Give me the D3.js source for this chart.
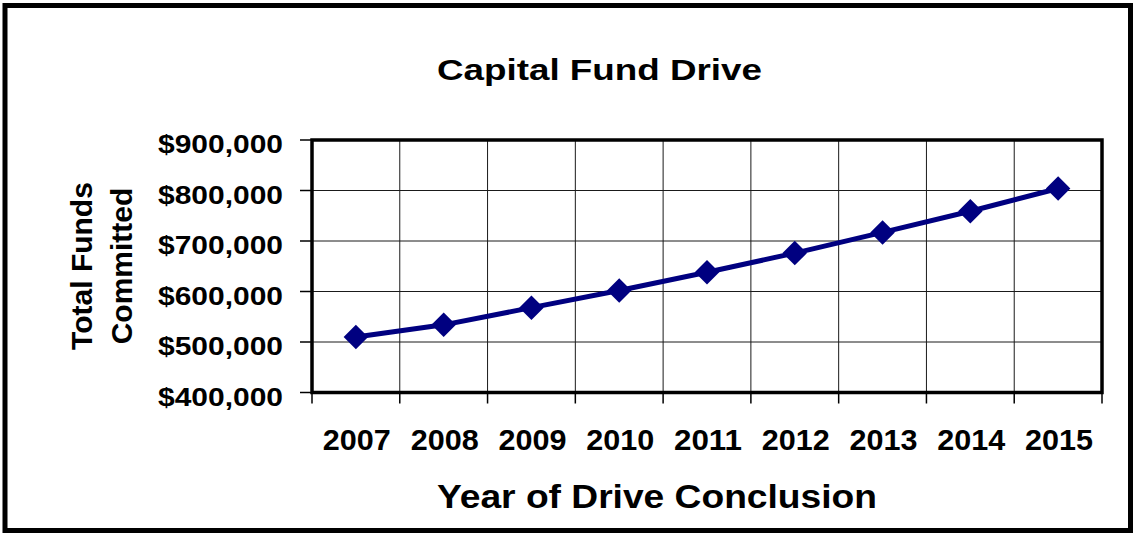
<!DOCTYPE html>
<html>
<head>
<meta charset="utf-8">
<script src="https://cdn.jsdelivr.net/npm/d3@7"></script>
<style>
  html, body { margin: 0; padding: 0; background: #fff; }
  svg { display: block; }
  text { font-family: Arial, "Liberation Sans", Helvetica, sans-serif; font-weight: 700; fill: #000; }
</style>
</head>
<body>
<svg id="chart" width="1133" height="533"></svg>
<script>
// Chart data
const years = ["2007", "2008", "2009", "2010", "2011", "2012", "2013", "2014", "2015"];
const committed = [510000, 534000, 568000, 602000, 638000, 676000, 717000, 759000, 804000];
const yTicks = [400000, 500000, 600000, 700000, 800000, 900000];
const chartTitle = "Capital Fund Drive";
const xTitle = "Year of Drive Conclusion";
const yTitleLines = ["Total Funds", "Committed"];

const svg = d3.select("#chart");
const W = 1133, H = 533;
const plot = { left: 312, right: 1102, top: 140, bottom: 392.5 };

// Outer frame
svg.append("rect")
  .attr("x", 5).attr("y", 5.5)
  .attr("width", W - 7.5).attr("height", H - 8)
  .attr("fill", "#fff").attr("stroke", "#000").attr("stroke-width", 5);

const x = d3.scaleBand().domain(years).range([plot.left, plot.right]).padding(0);
const y = d3.scaleLinear().domain([400000, 900000]).range([plot.bottom, plot.top]);

// Title
svg.append("text")
  .attr("x", 599.5).attr("y", 79.5)
  .attr("text-anchor", "middle")
  .attr("font-size", 29)
  .attr("textLength", 325).attr("lengthAdjust", "spacingAndGlyphs")
  .text(chartTitle);

// Gridlines
const grid = svg.append("g").attr("stroke", "#1a1a1a").attr("stroke-width", 1);
grid.selectAll("line.h").data(yTicks.slice(1, -1)).join("line")
  .attr("x1", plot.left).attr("x2", plot.right)
  .attr("y1", d => y(d)).attr("y2", d => y(d));
const boundaries = years.slice(1).map(d => x(d));
grid.selectAll("line.v").data(boundaries).join("line")
  .attr("x1", d => d).attr("x2", d => d)
  .attr("y1", plot.top).attr("y2", plot.bottom);

// Y axis ticks and labels
const fmt = d => "$" + d3.format(",")(d);
const yAxis = svg.append("g");
yAxis.selectAll("line").data(yTicks).join("line")
  .attr("x1", plot.left - 12).attr("x2", plot.left)
  .attr("y1", d => y(d)).attr("y2", d => y(d))
  .attr("stroke", "#000").attr("stroke-width", 1.5);
yAxis.selectAll("text").data(yTicks).join("text")
  .attr("x", plot.left - 29).attr("y", d => y(d) + 13)
  .attr("text-anchor", "end")
  .attr("font-size", 26)
  .attr("textLength", 125).attr("lengthAdjust", "spacingAndGlyphs")
  .text(fmt);

// X axis ticks and labels
const xEdges = [plot.left, ...boundaries, plot.right];
const xAxis = svg.append("g");
xAxis.selectAll("line").data(xEdges).join("line")
  .attr("x1", d => d).attr("x2", d => d)
  .attr("y1", plot.bottom).attr("y2", plot.bottom + 11)
  .attr("stroke", "#000").attr("stroke-width", 1.5);
xAxis.selectAll("text").data(years).join("text")
  .attr("x", d => x(d) + x.bandwidth() / 2 + 1)
  .attr("y", 450)
  .attr("text-anchor", "middle")
  .attr("font-size", 30)
  .attr("textLength", 68).attr("lengthAdjust", "spacingAndGlyphs")
  .text(d => d);

// Plot border
svg.append("rect")
  .attr("x", plot.left).attr("y", plot.top)
  .attr("width", plot.right - plot.left).attr("height", plot.bottom - plot.top)
  .attr("fill", "none").attr("stroke", "#000").attr("stroke-width", 3.5);

// Axis titles
svg.append("text")
  .attr("x", 657).attr("y", 508)
  .attr("text-anchor", "middle")
  .attr("font-size", 34)
  .attr("textLength", 440).attr("lengthAdjust", "spacingAndGlyphs")
  .text(xTitle);

const yt = svg.append("text")
  .attr("transform", "translate(92,266) rotate(-90)")
  .attr("text-anchor", "middle")
  .attr("font-size", 30);
yt.selectAll("tspan").data(yTitleLines).join("tspan")
  .attr("x", 0).attr("dy", (d, i) => i === 0 ? 0 : 40)
  .text(d => d);

// Series line and diamond markers
const cx = (d, i) => x(years[i]) + x.bandwidth() / 2;
const line = d3.line().x(cx).y(d => y(d));
svg.append("path")
  .datum(committed)
  .attr("d", line)
  .attr("fill", "none")
  .attr("stroke", "#000080")
  .attr("stroke-width", 5)
  .attr("stroke-linejoin", "round");

svg.selectAll("path.marker").data(committed).join("path")
  .attr("class", "marker")
  .attr("transform", (d, i) => `translate(${cx(d, i)},${y(d)}) rotate(45)`)
  .attr("d", d3.symbol().type(d3.symbolSquare).size(300))
  .attr("fill", "#000080");
</script>
</body>
</html>
